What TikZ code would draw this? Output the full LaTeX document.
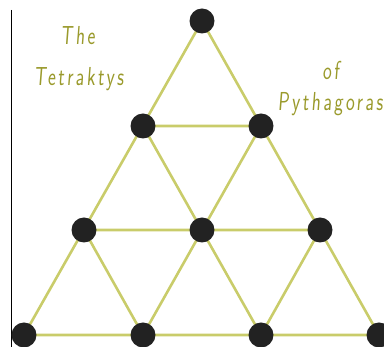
\documentclass[tikz,border=0pt]{standalone}
\usepackage{fontspec}
\setmainfont{Latin Modern Roman}
\newfontfamily\handfont[LetterSpace=10,FakeSlant=0.08,FakeStretch=0.72]{Latin Modern Sans}
\definecolor{edgecol}{HTML}{C9CC6A}
\definecolor{textcol}{HTML}{9A9A2C}
\definecolor{dotcol}{HTML}{222222}
\begin{document}
\begin{tikzpicture}[x=1pt,y=-1pt,
  dot/.style={circle,fill=dotcol,minimum size=25pt,inner sep=0pt},
  edge/.style={draw=edgecol,line width=2.6pt},
  title/.style={text=textcol,font=\handfont\fontsize{26}{28}\selectfont,inner sep=0pt,anchor=base}]
\useasboundingbox (0,0) rectangle (384,347);
\draw[line width=1pt,black] (11,10) -- (11,347);
\coordinate (a) at (202,21);
\coordinate (b1) at (143,126);
\coordinate (b2) at (261,126);
\coordinate (c1) at (84,230);
\coordinate (c2) at (202,230);
\coordinate (c3) at (320,230);
\coordinate (d1) at (24,335);
\coordinate (d2) at (143,335);
\coordinate (d3) at (261,335);
\coordinate (d4) at (379,335);
\draw[edge] (a) -- (d1) (a) -- (d4) (b1) -- (b2) (c1) -- (c3) (d1) -- (d4)
  (b1) -- (d3) (b2) -- (d2) (c1) -- (d2) (c3) -- (d3);
\foreach \p in {a,b1,b2,c1,c2,c3,d1,d2,d3,d4} \node[dot] at (\p) {};
\node[title] (t1) at (78,45) {The};
\node[title] (t2) at (79,86) {Tetraktys};
\node[title] (t3) at (331,80) {of};
\node[title,anchor=base east] (t4) at (383,111) {Pythagoras};
\end{tikzpicture}
\end{document}
